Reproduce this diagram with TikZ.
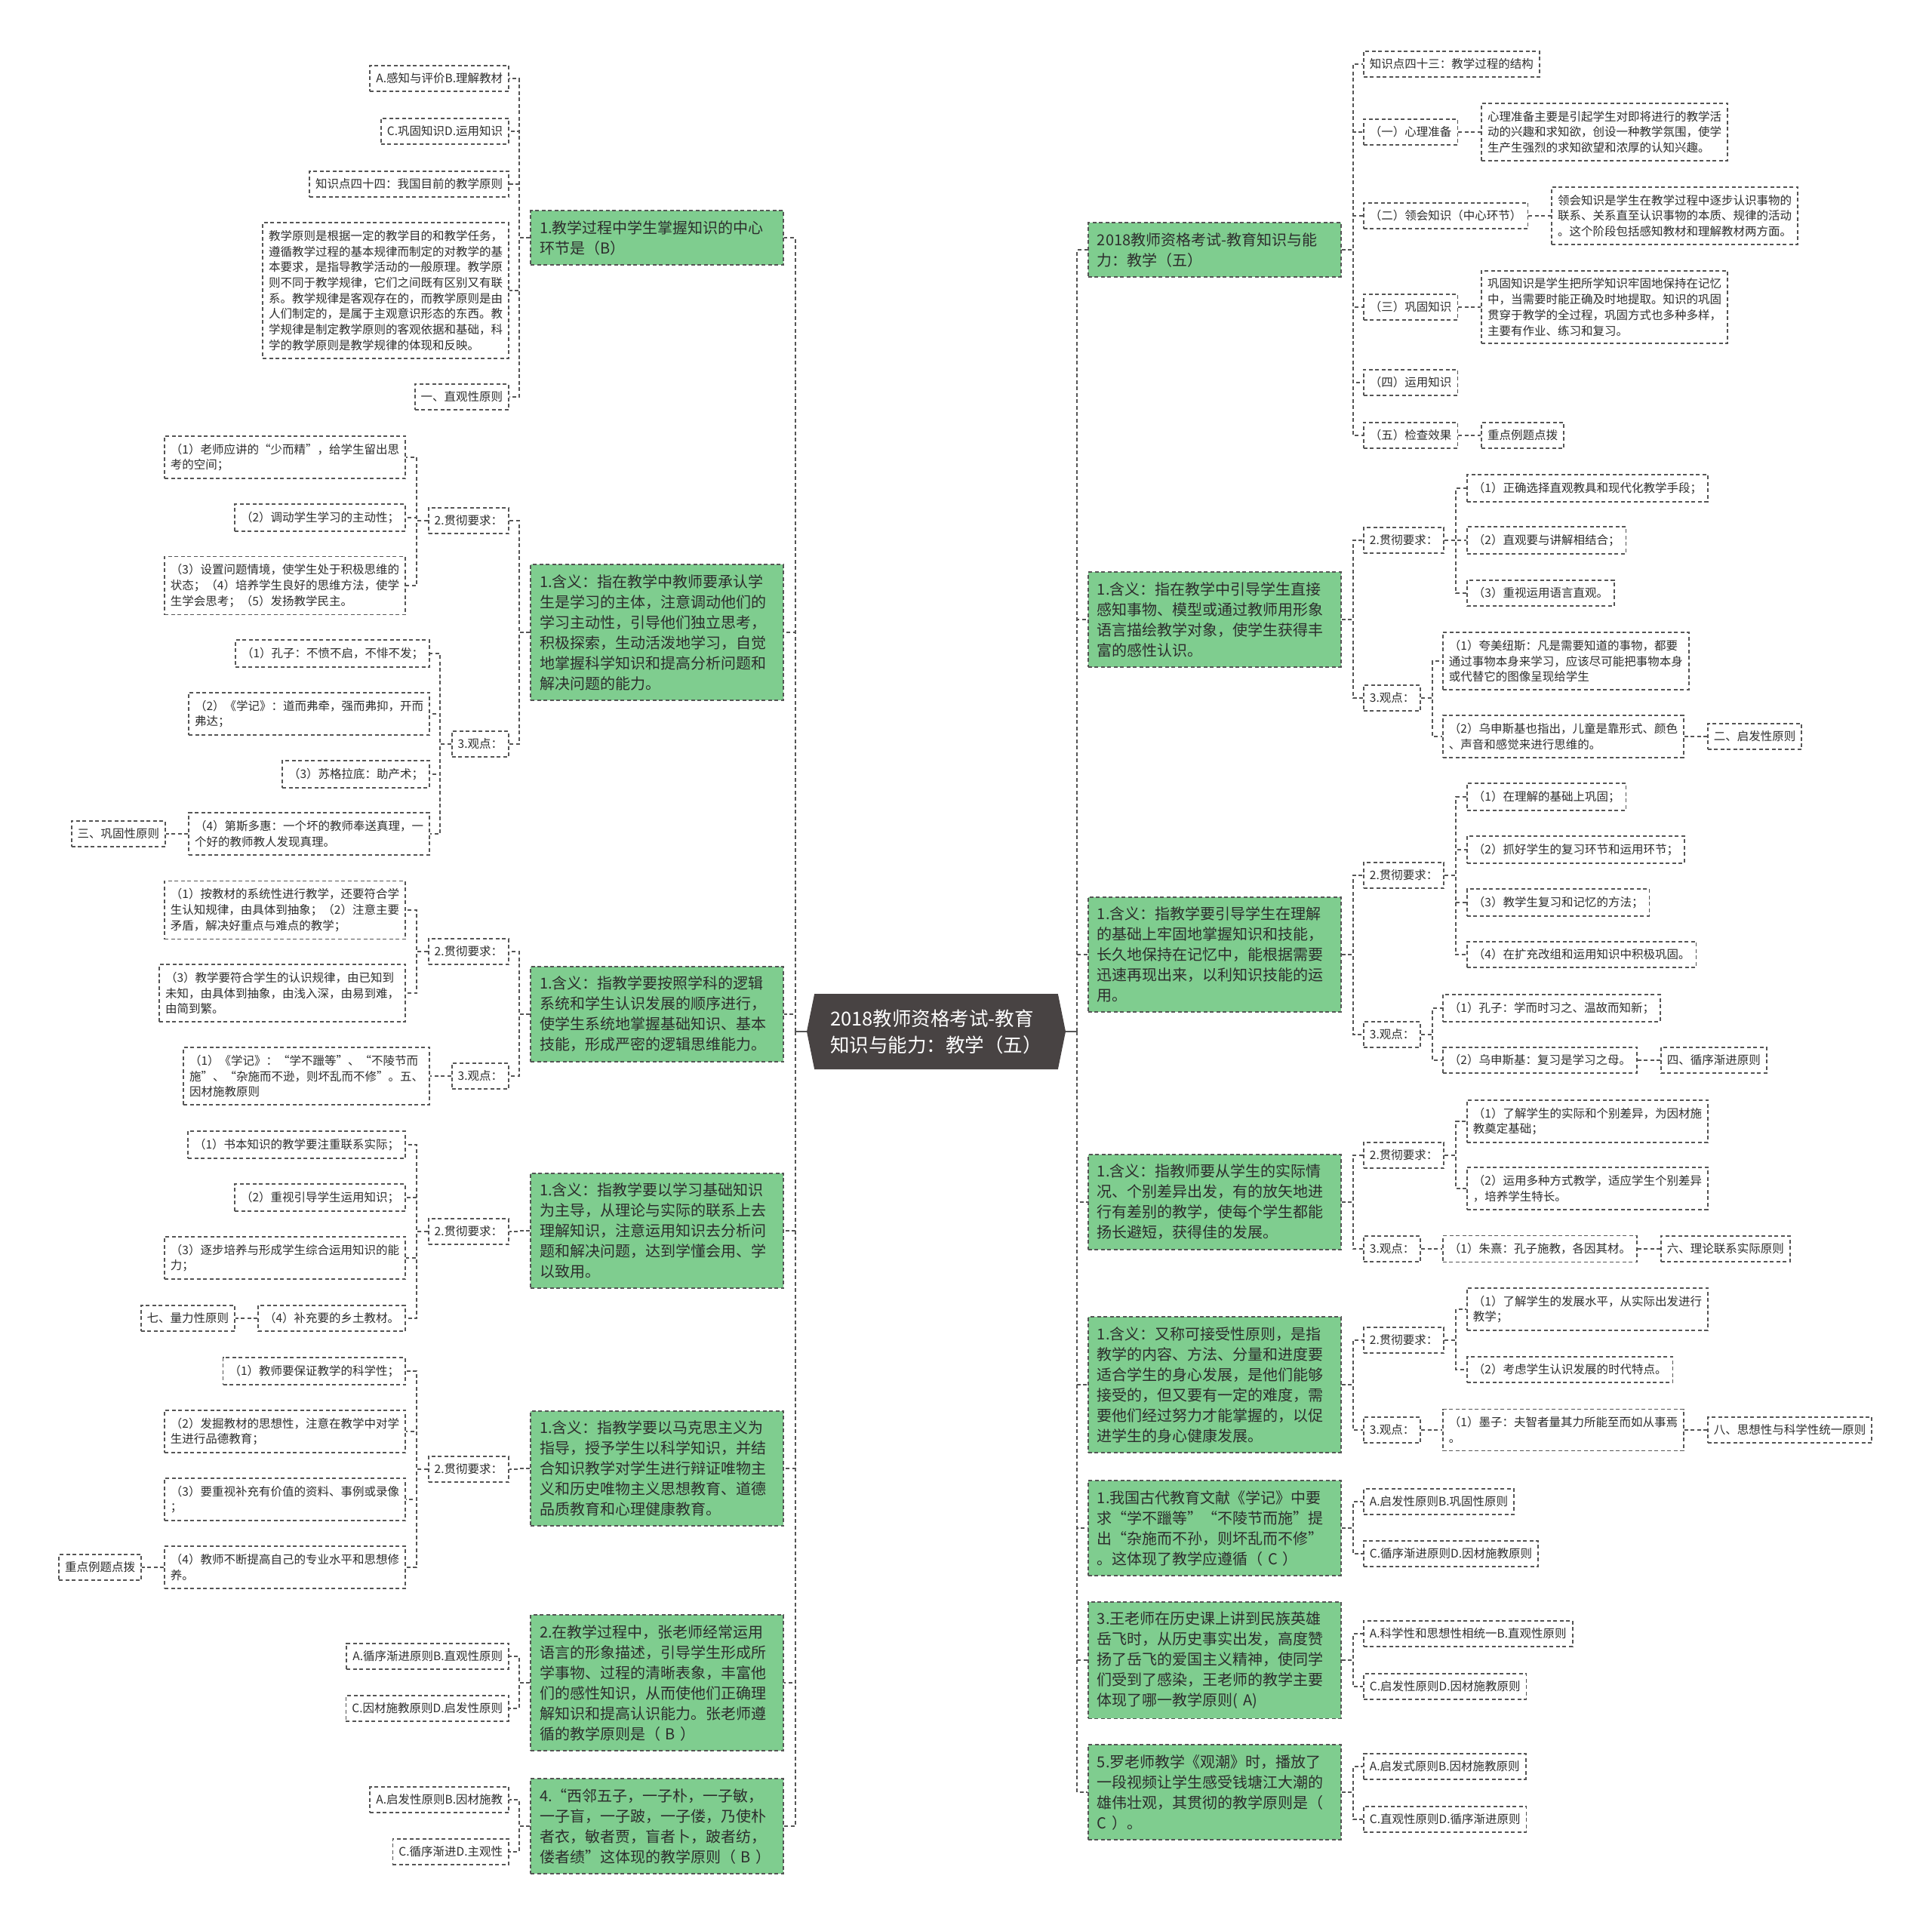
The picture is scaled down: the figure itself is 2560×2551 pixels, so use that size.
\documentclass[tikz,border=0pt]{standalone}
\usepackage{fontspec}
\setmainfont{Noto Sans CJK SC}
\usepackage{tikz}
\usetikzlibrary{positioning,shapes.symbols}
\definecolor{mapgreen}{RGB}{127,205,143}
\definecolor{mapdark}{RGB}{72,67,67}
\definecolor{linec}{RGB}{85,85,85}
\definecolor{textc}{RGB}{45,45,45}

\begin{document}
\begin{tikzpicture}[x=1pt,y=-1pt,
  link/.style={draw=linec,line width=1.8pt,dash pattern=on 5pt off 3.5pt},
  leaf/.style={draw=linec,line width=1.8pt,dash pattern=on 5pt off 3.5pt,fill=white,text=textc,
    font=\fontsize{15.5}{20.7}\selectfont,align=left,inner xsep=8pt,inner ysep=10pt},
  topic/.style={draw=linec,line width=1.8pt,dash pattern=on 5pt off 3.5pt,fill=mapgreen,text=textc,
    font=\fontsize{20}{27}\selectfont,align=left,text width=311pt,inner xsep=12pt,inner ysep=13pt},
  rootnode/.style={shape=signal,signal to=west and east,signal pointer angle=157,fill=mapdark,
    text=white,font=\fontsize{25.5}{35}\selectfont,align=left,minimum width=343pt,
    minimum height=100pt,inner sep=0pt}]
  \useasboundingbox (0,0) rectangle (2560,2551);
  \fill[white] (0,0) rectangle (2560,2551);

  % central topic
  \node[rootnode] (root) at (1240.5,1367) {2018教师资格考试-教育\\知识与能力：教学（五）};
  \draw[linec,line width=1.8pt] (root.west) -- ++(-15,0) coordinate (lt);
  \draw[linec,line width=1.8pt] (root.east) -- ++(15,0) coordinate (rt);

  % ---------- left side ----------
  \node[topic,anchor=east] (g1) at (1039,315) {1.教学过程中学生掌握知识的中心\\环节是（B）};
  \node[leaf,anchor=east] (g1a) at (675,104) {A.感知与评价B.理解教材};
  \node[leaf,anchor=east] (g1b) at (675,174) {C.巩固知识D.运用知识};
  \node[leaf,anchor=east] (g1c) at (675,244) {知识点四十四：我国目前的教学原则};
  \node[leaf,anchor=east] (g1d) at (675,385) {教学原则是根据一定的教学目的和教学任务，\\遵循教学过程的基本规律而制定的对教学的基\\本要求，是指导教学活动的一般原理。教学原\\则不同于教学规律，它们之间既有区别又有联\\系。教学规律是客观存在的，而教学原则是由\\人们制定的，是属于主观意识形态的东西。教\\学规律是制定教学原则的客观依据和基础，科\\学的教学原则是教学规律的体现和反映。};
  \node[leaf,anchor=east] (g1e) at (675,526) {一、直观性原则};

  \node[topic,anchor=east] (g2) at (1039,838) {1.含义：指在教学中教师要承认学\\生是学习的主体，注意调动他们的\\学习主动性，引导他们独立思考，\\积极探索，生动活泼地学习，自觉\\地掌握科学知识和提高分析问题和\\解决问题的能力。};
  \node[leaf,anchor=east] (g2r) at (675,690) {2.贯彻要求：};
  \node[leaf,anchor=east] (g2r1) at (538,606) {（1）老师应讲的“少而精”，给学生留出思\\考的空间；};
  \node[leaf,anchor=east] (g2r2) at (538,686) {（2）调动学生学习的主动性；};
  \node[leaf,anchor=east] (g2r3) at (538,776) {（3）设置问题情境，使学生处于积极思维的\\状态；（4）培养学生良好的思维方法，使学\\生学会思考；（5）发扬教学民主。};
  \node[leaf,anchor=east] (g2v) at (675,986) {3.观点：};
  \node[leaf,anchor=east] (g2v1) at (570,866) {（1）孔子：不愤不启，不悱不发；};
  \node[leaf,anchor=east] (g2v2) at (570,946) {（2）《学记》：道而弗牵，强而弗抑，开而\\弗达；};
  \node[leaf,anchor=east] (g2v3) at (570,1026) {（3）苏格拉底：助产术；};
  \node[leaf,anchor=east] (g2v4) at (570,1105) {（4）第斯多惠：一个坏的教师奉送真理，一\\个好的教师教人发现真理。};
  \node[leaf,left=29pt of g2v4] (g2v4a) {三、巩固性原则};

  \node[topic,anchor=east] (g3) at (1039,1344) {1.含义：指教学要按照学科的逻辑\\系统和学生认识发展的顺序进行，\\使学生系统地掌握基础知识、基本\\技能，形成严密的逻辑思维能力。};
  \node[leaf,anchor=east] (g3r) at (675,1261) {2.贯彻要求：};
  \node[leaf,anchor=east] (g3r1) at (538,1206) {（1）按教材的系统性进行教学，还要符合学\\生认知规律，由具体到抽象；（2）注意主要\\矛盾，解决好重点与难点的教学；};
  \node[leaf,anchor=east] (g3r2) at (538,1316) {（3）教学要符合学生的认识规律，由已知到\\未知，由具体到抽象，由浅入深，由易到难，\\由简到繁。};
  \node[leaf,anchor=east] (g3v) at (675,1426) {3.观点：};
  \node[leaf,anchor=east] (g3v1) at (570,1426) {（1）《学记》：“学不躐等”、“不陵节而\\施”、“杂施而不逊，则坏乱而不修”。五、\\因材施教原则};

  \node[topic,anchor=east] (g4) at (1039,1631) {1.含义：指教学要以学习基础知识\\为主导，从理论与实际的联系上去\\理解知识，注意运用知识去分析问\\题和解决问题，达到学懂会用、学\\以致用。};
  \node[leaf,anchor=east] (g4r) at (675,1632) {2.贯彻要求：};
  \node[leaf,anchor=east] (g4r1) at (538,1517) {（1）书本知识的教学要注重联系实际；};
  \node[leaf,anchor=east] (g4r2) at (538,1587) {（2）重视引导学生运用知识；};
  \node[leaf,anchor=east] (g4r3) at (538,1667) {（3）逐步培养与形成学生综合运用知识的能\\力；};
  \node[leaf,anchor=east] (g4r4) at (538,1747) {（4）补充要的乡土教材。};
  \node[leaf,left=29pt of g4r4] (g4r4a) {七、量力性原则};

  \node[topic,anchor=east] (g5) at (1039,1946) {1.含义：指教学要以马克思主义为\\指导，授予学生以科学知识，并结\\合知识教学对学生进行辩证唯物主\\义和历史唯物主义思想教育、道德\\品质教育和心理健康教育。};
  \node[leaf,anchor=east] (g5r) at (675,1947) {2.贯彻要求：};
  \node[leaf,anchor=east] (g5r1) at (538,1817) {（1）教师要保证教学的科学性；};
  \node[leaf,anchor=east] (g5r2) at (538,1897) {（2）发掘教材的思想性，注意在教学中对学\\生进行品德教育；};
  \node[leaf,anchor=east] (g5r3) at (538,1987) {（3）要重视补充有价值的资料、事例或录像\\；};
  \node[leaf,anchor=east] (g5r4) at (538,2077) {（4）教师不断提高自己的专业水平和思想修\\养。};
  \node[leaf,left=29pt of g5r4] (g5r4a) {重点例题点拨};

  \node[topic,anchor=east] (g6) at (1039,2230) {2.在教学过程中，张老师经常运用\\语言的形象描述，引导学生形成所\\学事物、过程的清晰表象，丰富他\\们的感性知识，从而使他们正确理\\解知识和提高认识能力。张老师遵\\循的教学原则是（~B~）};
  \node[leaf,anchor=east] (g6a) at (675,2195) {A.循序渐进原则B.直观性原则};
  \node[leaf,anchor=east] (g6b) at (675,2264) {C.因材施教原则D.启发性原则};

  \node[topic,anchor=east] (g7) at (1039,2420) {4.“西邻五子，一子朴，一子敏，\\一子盲，一子跛，一子偻，乃使朴\\者衣，敏者贾，盲者卜，跛者纺，\\偻者绩”这体现的教学原则（~B~）};
  \node[leaf,anchor=east] (g7a) at (675,2385) {A.启发性原则B.因材施教};
  \node[leaf,anchor=east] (g7b) at (675,2454) {C.循序渐进D.主观性};

  % ---------- right side ----------
  \node[topic,anchor=west] (h1) at (1441,331) {2018教师资格考试-教育知识与能\\力：教学（五）};
  \node[leaf,anchor=west] (h1a) at (1806,85) {知识点四十三：教学过程的结构};
  \node[leaf,anchor=west] (h1b) at (1806,175) {（一）心理准备};
  \node[leaf,right=30pt of h1b] (h1b1) {心理准备主要是引起学生对即将进行的教学活\\动的兴趣和求知欲，创设一种教学氛围，使学\\生产生强烈的求知欲望和浓厚的认知兴趣。};
  \node[leaf,anchor=west] (h1c) at (1806,286) {（二）领会知识（中心环节）};
  \node[leaf,right=30pt of h1c] (h1c1) {领会知识是学生在教学过程中逐步认识事物的\\联系、关系直至认识事物的本质、规律的活动\\。这个阶段包括感知教材和理解教材两方面。};
  \node[leaf,anchor=west] (h1d) at (1806,407) {（三）巩固知识};
  \node[leaf,right=30pt of h1d] (h1d1) {巩固知识是学生把所学知识牢固地保持在记忆\\中，当需要时能正确及时地提取。知识的巩固\\贯穿于教学的全过程，巩固方式也多种多样，\\主要有作业、练习和复习。};
  \node[leaf,anchor=west] (h1e) at (1806,507) {（四）运用知识};
  \node[leaf,anchor=west] (h1f) at (1806,577) {（五）检查效果};
  \node[leaf,right=30pt of h1f] (h1f1) {重点例题点拨};

  \node[topic,anchor=west] (h2) at (1441,821) {1.含义：指在教学中引导学生直接\\感知事物、模型或通过教师用形象\\语言描绘教学对象，使学生获得丰\\富的感性认识。};
  \node[leaf,anchor=west] (h2r) at (1806,716) {2.贯彻要求：};
  \node[leaf,anchor=west] (h2r1) at (1943,647) {（1）正确选择直观教具和现代化教学手段；};
  \node[leaf,anchor=west] (h2r2) at (1943,716) {（2）直观要与讲解相结合；};
  \node[leaf,anchor=west] (h2r3) at (1943,786) {（3）重视运用语言直观。};
  \node[leaf,anchor=west] (h2v) at (1806,925) {3.观点：};
  \node[leaf,anchor=west] (h2v1) at (1911,876) {（1）夸美纽斯：凡是需要知道的事物，都要\\通过事物本身来学习，应该尽可能把事物本身\\或代替它的图像呈现给学生};
  \node[leaf,anchor=west] (h2v2) at (1911,976) {（2）乌申斯基也指出，儿童是靠形式、颜色\\、声音和感觉来进行思维的。};
  \node[leaf,right=30pt of h2v2] (h2v2a) {二、启发性原则};

  \node[topic,anchor=west] (h3) at (1441,1265) {1.含义：指教学要引导学生在理解\\的基础上牢固地掌握知识和技能，\\长久地保持在记忆中，能根据需要\\迅速再现出来，以利知识技能的运\\用。};
  \node[leaf,anchor=west] (h3r) at (1806,1160) {2.贯彻要求：};
  \node[leaf,anchor=west] (h3r1) at (1943,1056) {（1）在理解的基础上巩固；};
  \node[leaf,anchor=west] (h3r2) at (1943,1126) {（2）抓好学生的复习环节和运用环节；};
  \node[leaf,anchor=west] (h3r3) at (1943,1196) {（3）教学生复习和记忆的方法；};
  \node[leaf,anchor=west] (h3r4) at (1943,1265) {（4）在扩充改组和运用知识中积极巩固。};
  \node[leaf,anchor=west] (h3v) at (1806,1371) {3.观点：};
  \node[leaf,anchor=west] (h3v1) at (1911,1336) {（1）孔子：学而时习之、温故而知新；};
  \node[leaf,anchor=west] (h3v2) at (1911,1405) {（2）乌申斯基：复习是学习之母。};
  \node[leaf,right=30pt of h3v2] (h3v2a) {四、循序渐进原则};

  \node[topic,anchor=west] (h4) at (1441,1593) {1.含义：指教师要从学生的实际情\\况、个别差异出发，有的放矢地进\\行有差别的教学，使每个学生都能\\扬长避短，获得佳的发展。};
  \node[leaf,anchor=west] (h4r) at (1806,1531) {2.贯彻要求：};
  \node[leaf,anchor=west] (h4r1) at (1943,1486) {（1）了解学生的实际和个别差异，为因材施\\教奠定基础；};
  \node[leaf,anchor=west] (h4r2) at (1943,1575) {（2）运用多种方式教学，适应学生个别差异\\，培养学生特长。};
  \node[leaf,anchor=west] (h4v) at (1806,1655) {3.观点：};
  \node[leaf,anchor=west] (h4v1) at (1911,1655) {（1）朱熹：孔子施教，各因其材。};
  \node[leaf,right=30pt of h4v1] (h4v1a) {六、理论联系实际原则};

  \node[topic,anchor=west] (h5) at (1441,1835) {1.含义：又称可接受性原则，是指\\教学的内容、方法、分量和进度要\\适合学生的身心发展，是他们能够\\接受的，但又要有一定的难度，需\\要他们经过努力才能掌握的，以促\\进学生的身心健康发展。};
  \node[leaf,anchor=west] (h5r) at (1806,1776) {2.贯彻要求：};
  \node[leaf,anchor=west] (h5r1) at (1943,1735) {（1）了解学生的发展水平，从实际出发进行\\教学；};
  \node[leaf,anchor=west] (h5r2) at (1943,1815) {（2）考虑学生认识发展的时代特点。};
  \node[leaf,anchor=west] (h5v) at (1806,1895) {3.观点：};
  \node[leaf,anchor=west] (h5v1) at (1911,1895) {（1）墨子：夫智者量其力所能至而如从事焉\\。};
  \node[leaf,right=30pt of h5v1] (h5v1a) {八、思想性与科学性统一原则};

  \node[topic,anchor=west] (h6) at (1441,2025) {1.我国古代教育文献《学记》中要\\求“学不躐等”“不陵节而施”提\\出“杂施而不孙，则坏乱而不修”\\。这体现了教学应遵循（~C~）};
  \node[leaf,anchor=west] (h6a) at (1806,1990) {A.启发性原则B.巩固性原则};
  \node[leaf,anchor=west] (h6b) at (1806,2059) {C.循序渐进原则D.因材施教原则};

  \node[topic,anchor=west] (h7) at (1441,2200) {3.王老师在历史课上讲到民族英雄\\岳飞时，从历史事实出发，高度赞\\扬了岳飞的爱国主义精神，使同学\\们受到了感染，王老师的教学主要\\体现了哪一教学原则(~A)};
  \node[leaf,anchor=west] (h7a) at (1806,2165) {A.科学性和思想性相统一B.直观性原则};
  \node[leaf,anchor=west] (h7b) at (1806,2235) {C.启发性原则D.因材施教原则};

  \node[topic,anchor=west] (h8) at (1441,2375) {5.罗老师教学《观潮》时，播放了\\一段视频让学生感受钱塘江大潮的\\雄伟壮观，其贯彻的教学原则是（\\C~）。};
  \node[leaf,anchor=west] (h8a) at (1806,2341) {A.启发式原则B.因材施教原则};
  \node[leaf,anchor=west] (h8b) at (1806,2411) {C.直观性原则D.循序渐进原则};

  % ---------- connectors ----------
  \foreach \t in {g1,g2,g3,g4,g5,g6,g7} \draw[link] (lt) |- (\t.east);
  \foreach \t in {h1,h2,h3,h4,h5,h6,h7,h8} \draw[link] (rt) |- (\t.west);

  % left branches
  \foreach \p/\c in {g1/g1a,g1/g1b,g1/g1c,g1/g1d,g1/g1e,
      g2/g2r,g2/g2v,g2r/g2r1,g2r/g2r2,g2r/g2r3,
      g2v/g2v1,g2v/g2v2,g2v/g2v3,g2v/g2v4,g2v4/g2v4a,
      g3/g3r,g3/g3v,g3r/g3r1,g3r/g3r2,g3v/g3v1,
      g4/g4r,g4r/g4r1,g4r/g4r2,g4r/g4r3,g4r/g4r4,g4r4/g4r4a,
      g5/g5r,g5r/g5r1,g5r/g5r2,g5r/g5r3,g5r/g5r4,g5r4/g5r4a,
      g6/g6a,g6/g6b,g7/g7a,g7/g7b}
    \draw[link] (\p.west) -- ++(-14.5,0) |- (\c.east);

  % right branches
  \foreach \p/\c in {h1/h1a,h1/h1b,h1/h1c,h1/h1d,h1/h1e,h1/h1f,
      h1b/h1b1,h1c/h1c1,h1d/h1d1,h1f/h1f1,
      h2/h2r,h2/h2v,h2r/h2r1,h2r/h2r2,h2r/h2r3,h2v/h2v1,h2v/h2v2,h2v2/h2v2a,
      h3/h3r,h3/h3v,h3r/h3r1,h3r/h3r2,h3r/h3r3,h3r/h3r4,h3v/h3v1,h3v/h3v2,h3v2/h3v2a,
      h4/h4r,h4/h4v,h4r/h4r1,h4r/h4r2,h4v/h4v1,h4v1/h4v1a,
      h5/h5r,h5/h5v,h5r/h5r1,h5r/h5r2,h5v/h5v1,h5v1/h5v1a,
      h6/h6a,h6/h6b,h7/h7a,h7/h7b,h8/h8a,h8/h8b}
    \draw[link] (\p.east) -- ++(15,0) |- (\c.west);
\end{tikzpicture}
\end{document}
